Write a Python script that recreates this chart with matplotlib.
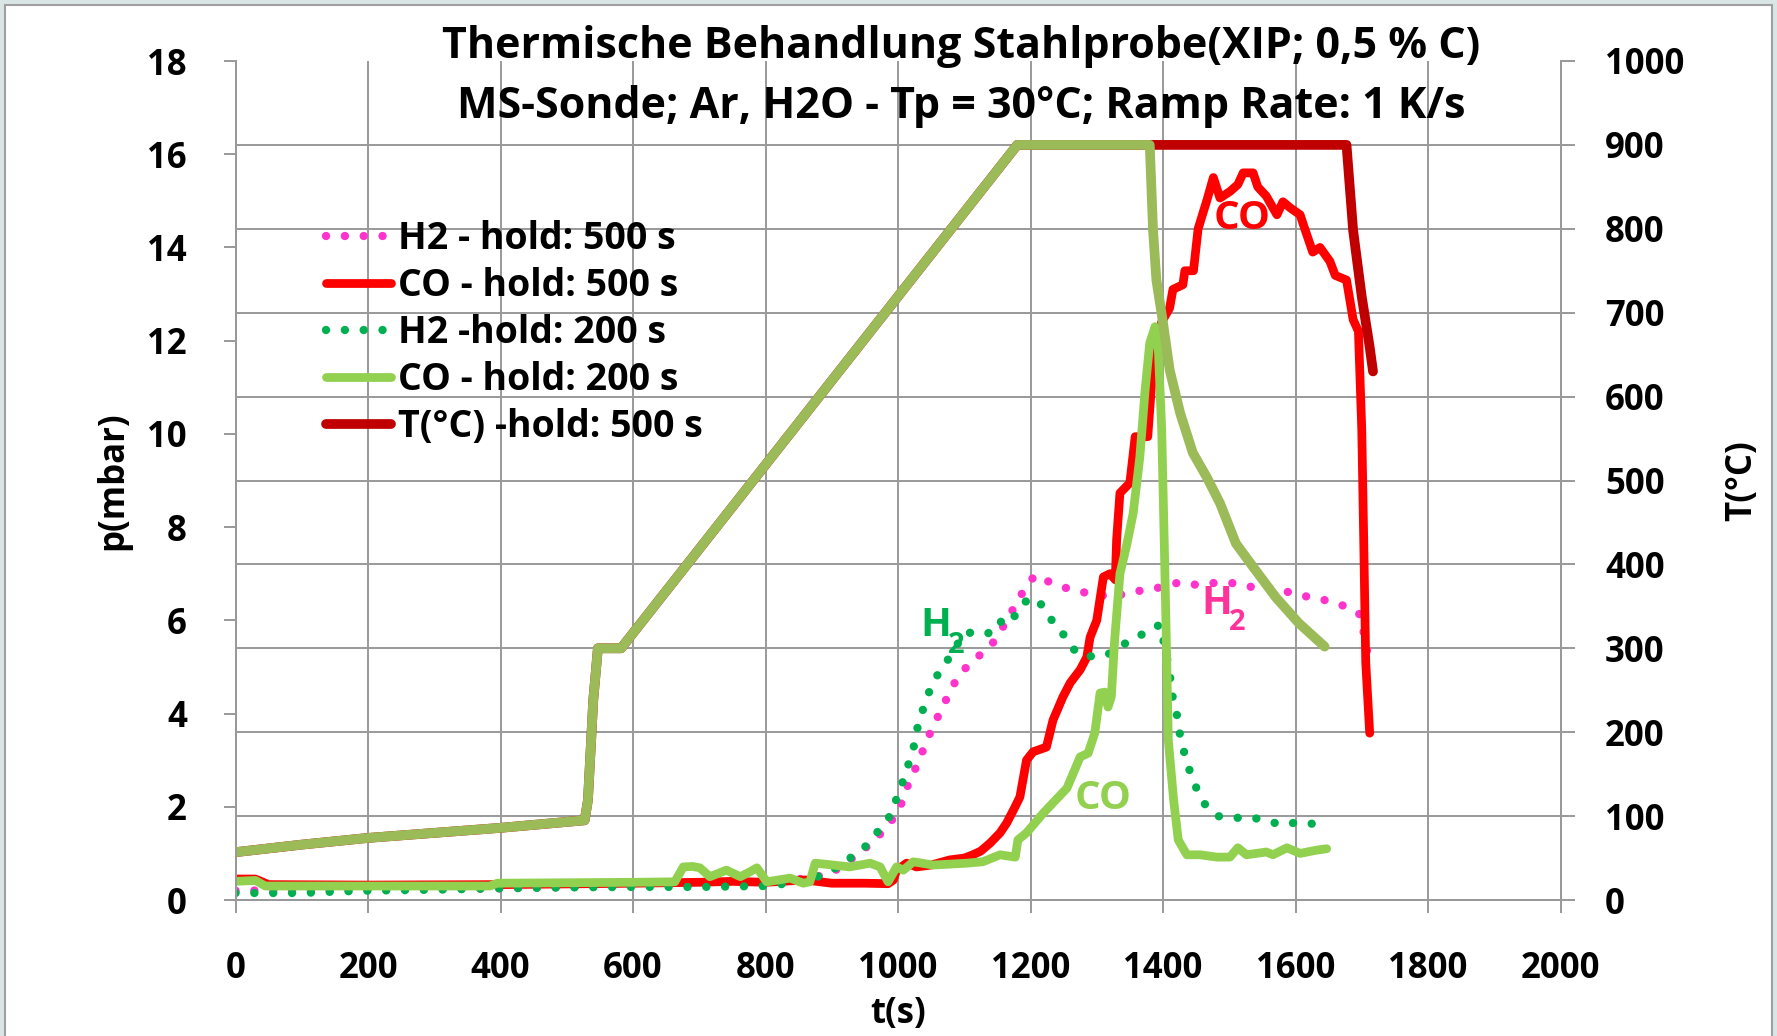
import numpy as np
import matplotlib
matplotlib.use("Agg")
import matplotlib.pyplot as plt
from matplotlib.patches import Rectangle

plt.rcParams['font.family'] = ['Open Sans', 'DejaVu Sans']
plt.rcParams['font.weight'] = 'bold'

# temperature programme, common part (ramp 1 K/s up to 900 °C)
t_ramp = [0, 100, 200, 300, 400, 527, 532, 540, 547, 582, 1180]
T_ramp = [57, 66, 74, 80, 86, 95, 119, 238, 300, 300, 900]

# hold 500 s, then cooling
t_T500 = [1677, 1687, 1700, 1712, 1717]
T_T500 = [900, 798, 719, 659, 630]

# hold 200 s, then cooling
t_T200 = [1380, 1385, 1390, 1400, 1410, 1426, 1445, 1466, 1486, 1510, 1536, 1570, 1605, 1644]
T_T200 = [900, 798, 739, 688, 632, 580, 533, 504, 473, 425, 397, 361, 330, 302]

# CO - hold 500 s (mbar)
t_co500 = [0, 30, 50, 200, 400, 600, 700, 750, 800, 860, 900, 950, 985, 993, 998, 1013, 1028,
           1050, 1078, 1100, 1113, 1125, 1139, 1154, 1164, 1175, 1184, 1194, 1204, 1224, 1234,
           1249, 1260, 1275, 1285, 1290, 1300, 1310, 1320, 1328, 1330, 1335, 1350, 1358, 1377,
           1385, 1398, 1410, 1415, 1430, 1433, 1446, 1453, 1466, 1476, 1486, 1501, 1513, 1521,
           1536, 1543, 1556, 1572, 1581, 1592, 1607, 1614, 1626, 1637, 1652, 1660, 1677, 1687,
           1695, 1700, 1703, 1706, 1712]
p_co500 = [0.45, 0.45, 0.33, 0.32, 0.33, 0.36, 0.38, 0.40, 0.38, 0.43, 0.36, 0.36, 0.35, 0.43,
           0.64, 0.79, 0.71, 0.75, 0.86, 0.90, 0.97, 1.05, 1.22, 1.44, 1.65, 1.95, 2.21, 3.0,
           3.18, 3.28, 3.86, 4.36, 4.66, 4.94, 5.21, 5.64, 6.0, 6.93, 7.0, 6.87, 7.73, 8.73,
           8.95, 9.94, 9.94, 11.5, 12.4, 12.7, 13.1, 13.2, 13.5, 13.5, 14.4, 15.0, 15.5, 15.06,
           15.2, 15.35, 15.6, 15.6, 15.3, 15.1, 14.7, 14.98, 14.85, 14.7, 14.4, 13.9, 14.0,
           13.7, 13.4, 13.3, 12.45, 12.2, 10.1, 7.7, 5.1, 3.58]

# CO - hold 200 s (mbar)
t_co200 = [0, 30, 45, 100, 200, 300, 384, 395, 500, 600, 663, 676, 690, 701, 716, 741, 762,
           777, 787, 802, 837, 857, 867, 875, 902, 927, 958, 973, 985, 998, 1008, 1023, 1053,
           1104, 1128, 1154, 1177, 1181, 1194, 1219, 1255, 1275, 1287, 1297, 1305, 1312, 1317,
           1322, 1327, 1335, 1345, 1355, 1365, 1373, 1380, 1388, 1393, 1398, 1402, 1405, 1408,
           1416, 1423, 1436, 1456, 1481, 1501, 1513, 1526, 1556, 1566, 1587, 1607, 1632, 1647]
p_co200 = [0.40, 0.42, 0.30, 0.30, 0.30, 0.30, 0.30, 0.36, 0.37, 0.38, 0.39, 0.71, 0.72, 0.69,
           0.50, 0.64, 0.50, 0.61, 0.69, 0.39, 0.47, 0.36, 0.39, 0.79, 0.75, 0.71, 0.79, 0.71,
           0.39, 0.71, 0.64, 0.82, 0.75, 0.79, 0.82, 0.97, 0.92, 1.29, 1.44, 1.86, 2.40, 3.07,
           3.15, 3.58, 4.44, 4.46, 4.14, 4.36, 5.58, 7.0, 7.6, 8.3, 9.5, 10.94, 11.95, 12.3,
           11.8, 10.1, 7.6, 5.58, 3.43, 2.15, 1.29, 0.97, 0.97, 0.92, 0.92, 1.12, 0.97, 1.03,
           0.97, 1.12, 1.0, 1.07, 1.10]

# H2 - hold 500 s (mbar)
t_h2500 = [0, 200, 400, 600, 800, 877, 902, 923, 943, 963, 980, 996, 1008, 1015, 1026, 1036,
           1045, 1056, 1066, 1078, 1089, 1106, 1124, 1141, 1154, 1166, 1179, 1192, 1207, 1229,
           1252, 1277, 1300, 1325, 1350, 1375, 1400, 1426, 1451, 1476, 1504, 1528, 1551, 1579,
           1602, 1629, 1655, 1677, 1698, 1707, 1712]
p_h2500 = [0.20, 0.22, 0.25, 0.30, 0.35, 0.50, 0.60, 0.82, 1.0, 1.29, 1.5, 1.82, 2.15, 2.47,
           2.81, 3.15, 3.48, 3.8, 4.12, 4.44, 4.76, 5.04, 5.26, 5.47, 5.75, 6.05, 6.37, 6.7,
           6.97, 6.82, 6.7, 6.61, 6.55, 6.5, 6.61, 6.65, 6.72, 6.82, 6.76, 6.8, 6.8, 6.72, 6.72,
           6.65, 6.55, 6.48, 6.4, 6.29, 6.12, 5.43, 5.08]

# H2 - hold 200 s (mbar)
t_h2200 = [0, 50, 100, 150, 200, 300, 400, 500, 600, 700, 800, 860, 897, 923, 943, 960, 975,
           991, 998, 1007, 1015, 1023, 1027, 1034, 1041, 1050, 1062, 1077, 1101, 1128, 1151,
           1159, 1177, 1192, 1208, 1224, 1237, 1255, 1269, 1294, 1316, 1338, 1360, 1383, 1396,
           1410, 1413, 1420, 1423, 1428, 1434, 1442, 1451, 1463, 1482, 1509, 1528, 1553, 1579,
           1604, 1629]
p_h2200 = [0.15, 0.15, 0.15, 0.18, 0.20, 0.22, 0.25, 0.27, 0.28, 0.28, 0.30, 0.40, 0.60, 0.86,
           1.03, 1.29, 1.57, 1.86, 2.19, 2.53, 2.88, 3.22, 3.58, 3.91, 4.25, 4.57, 4.89, 5.19,
           5.75, 5.69, 5.79, 6.12, 6.09, 6.4, 6.48, 6.2, 5.88, 5.62, 5.3, 5.22, 5.26, 5.47,
           5.62, 5.84, 5.9, 4.9, 4.44, 4.08, 3.73, 3.39, 3.05, 2.7, 2.38, 2.06, 1.8, 1.76, 1.78,
           1.72, 1.61, 1.67, 1.63]

x_ticks = list(range(0, 2001, 200))
p_ticks = list(range(0, 19, 2))
T_ticks = list(range(0, 1001, 100))

grid_col = '#999999'
W, H = 1777, 1036
fig = plt.figure(figsize=(W / 100, H / 100), dpi=100)
fig.patch.set_facecolor('#DAE6E6')
fig.patches.append(Rectangle((5 / W, -0.01), (1772 - 5) / W, (H - 5) / H + 0.01,
                             transform=fig.transFigure, facecolor='white',
                             edgecolor='#A0A0A0', lw=1.5, zorder=-10))

ax = fig.add_axes([235.5 / W, 136 / H, 1325 / W, 839 / H])
ax.set_facecolor('none')
ax2 = ax.twinx()

dot = (0, (0.01, 2.25))
ax.plot(t_h2500, p_h2500, color='#FF33CC', lw=6, ls=dot, dash_capstyle='round',
        label='H2 - hold: 500 s')
ax.plot(t_co500, p_co500, color='#FF0000', lw=6.3, solid_joinstyle='round',
        solid_capstyle='round', label='CO - hold: 500 s')
ax.plot(t_h2200, p_h2200, color='#00B050', lw=6, ls=dot, dash_capstyle='round',
        label='H2 -hold: 200 s')
ax.plot(t_co200, p_co200, color='#92D050', lw=6.3, solid_joinstyle='round',
        solid_capstyle='round', label='CO - hold: 200 s')

ax2.plot(t_ramp + t_T500, T_ramp + T_T500, color='#C00000', lw=7,
         solid_joinstyle='round', solid_capstyle='round', label='T(°C) -hold: 500 s')
ax2.plot(t_ramp + t_T200, T_ramp + T_T200, color='#9BBB59', lw=7,
         solid_joinstyle='round', solid_capstyle='round')

ax.set_xlim(0, 2000)
ax.set_ylim(0, 18)
ax2.set_ylim(0, 1000)
ax.set_xticks(x_ticks)
ax.set_yticks(p_ticks)
ax.set_yticks(np.array(T_ticks) * 18 / 1000, minor=True)
ax2.set_yticks(T_ticks)

ax.grid(axis='x', color=grid_col, lw=1.4)
ax.grid(axis='y', which='minor', color=grid_col, lw=1.4)
ax.set_axisbelow(True)
ax.tick_params(axis='y', which='minor', length=0)
ax.tick_params(axis='both', which='major', direction='out', length=9, width=1.4,
               color=grid_col, labelsize=25)
ax.tick_params(axis='x', pad=28)
ax.tick_params(axis='y', pad=26)
ax2.tick_params(axis='y', direction='out', length=10, width=1.4, color=grid_col,
                labelsize=25, pad=22)
for a in (ax, ax2):
    for s in a.spines.values():
        s.set_color(grid_col)
        s.set_linewidth(1.4)
    a.spines['top'].set_visible(False)

ax.set_xlabel('t(s)', fontsize=25, fontweight='bold', va='center')
ax.xaxis.set_label_coords(0.5, -0.136)
ax.set_ylabel('p(mbar)', fontsize=25, fontweight='bold', va='center')
ax.yaxis.set_label_coords(-0.0925, 0.5)
ax2.set_ylabel('T(°C)', fontsize=25, fontweight='bold', rotation=90, va='center')
ax2.yaxis.set_label_coords(1.137, 0.5)

fig.text(961 / W, 1 - 47 / H, 'Thermische Behandlung Stahlprobe(XIP; 0,5 % C)',
         ha='center', va='center', fontsize=31, fontweight='bold')
fig.text(961 / W, 1 - 106 / H, 'MS-Sonde; Ar, H2O - Tp = 30°C; Ramp Rate: 1 K/s',
         ha='center', va='center', fontsize=31, fontweight='bold')

# curve labels
ax.text(1519, 14.63, 'CO', color='#FF0000', fontsize=29, fontweight='bold',
        ha='center', va='center')
ax.text(1309, 2.18, 'CO', color='#92D050', fontsize=29, fontweight='bold',
        ha='center', va='center')
for t0, p0, col in [(1458, 6.36, '#FF3399'), (1034, 5.88, '#00B050')]:
    ax.text(t0, p0, 'H', color=col, fontsize=29, fontweight='bold', ha='left', va='center')
    ax.annotate('2', (t0, p0), xytext=(20, -14), textcoords='offset points', color=col,
                fontsize=21, fontweight='bold', ha='left', va='center')

h1, l1 = ax.get_legend_handles_labels()
h2, l2 = ax2.get_legend_handles_labels()
leg = ax2.legend(h1 + h2, l1 + l2, loc='upper left',
                 bbox_to_anchor=(326 / W, 1 - 220 / H), bbox_transform=fig.transFigure,
                 frameon=False, fontsize=27, handlelength=1.72, handletextpad=0.2,
                 labelspacing=0.24, borderpad=0, borderaxespad=0)

fig.savefig('out.png', dpi=100, facecolor=fig.get_facecolor())
